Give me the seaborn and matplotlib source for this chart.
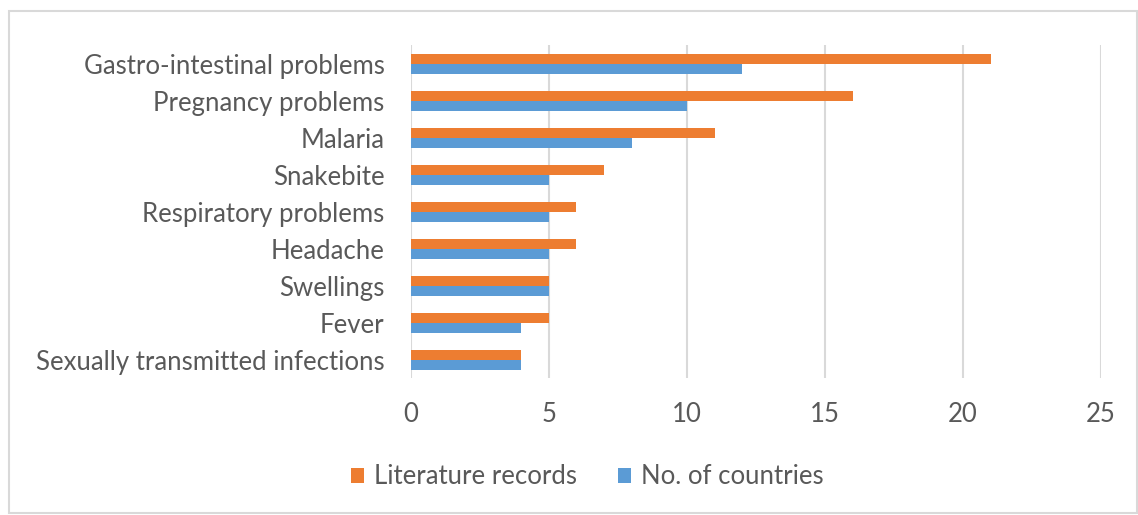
import numpy as np
import pandas as pd
import seaborn as sns
import matplotlib.pyplot as plt
from matplotlib.patches import Rectangle

# chart data
conditions = ['Gastro-intestinal problems', 'Pregnancy problems', 'Malaria', 'Snakebite',
              'Respiratory problems', 'Headache', 'Swellings', 'Fever',
              'Sexually transmitted infections']
literature_records = [21, 16, 11, 7, 6, 6, 5, 5, 4]
no_of_countries = [12, 10, 8, 5, 5, 5, 5, 4, 4]
series_names = ['Literature records', 'No. of countries']
x_ticks = [0, 5, 10, 15, 20, 25]

df = pd.DataFrame({
    'condition': conditions * 2,
    'value': literature_records + no_of_countries,
    'series': [series_names[0]] * len(conditions) + [series_names[1]] * len(conditions),
})

sns.set_style('white')
plt.rcParams['font.family'] = ['Lato', 'DejaVu Sans']
text_col = '#595959'
fs = 18.5

fig = plt.figure(figsize=(11.38, 5.15), dpi=100)
ax = fig.add_axes([0.361, 0.266, 0.6065, 0.6464])

sns.barplot(data=df, x='value', y='condition', hue='series', hue_order=series_names,
            palette=['#ED7D31', '#5B9BD5'], orient='h', width=0.54, ax=ax,
            saturation=1, edgecolor='none', legend=True)

ax.set_xlim(0, 25)
ax.set_xticks(x_ticks)
ax.set_xticklabels([str(t) for t in x_ticks])
ax.grid(axis='x', color='#d9d9d9', linewidth=1.5)
ax.set_axisbelow(True)
for s in ax.spines.values():
    s.set_visible(False)
ax.tick_params(axis='both', length=0, labelsize=fs, labelcolor=text_col)
ax.tick_params(axis='x', pad=17)
ax.tick_params(axis='y', pad=19)
ax.set_xlabel('')
ax.set_ylabel('')

handles, labels = ax.get_legend_handles_labels()
ax.get_legend().remove()
fig.legend(handles, labels, loc='center', bbox_to_anchor=(0.516, 1 - 477 / 515), ncol=2,
           frameon=False, fontsize=fs, labelcolor=text_col, handlelength=0.5,
           handleheight=0.5, handletextpad=0.4, columnspacing=1.6)

# chart border
fig.patches.append(Rectangle((9 / 1138, 0.003), 1 - 10 / 1138, 1 - 11 / 515 - 0.003,
                             transform=fig.transFigure, fill=False,
                             edgecolor='#d9d9d9', linewidth=1.5))

fig.savefig('out.png', dpi=100)
